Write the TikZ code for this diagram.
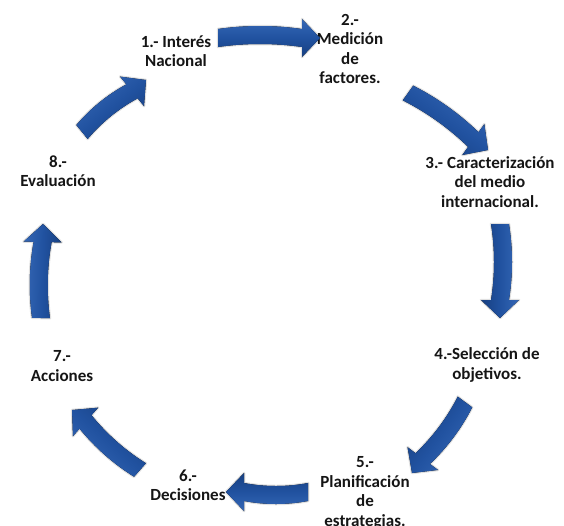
\documentclass[tikz,border=0pt]{standalone}
\usepackage{fontspec}
\setmainfont{Carlito}
\usetikzlibrary{calc}
\definecolor{arrmid}{HTML}{2152A0}
\definecolor{arrdark}{HTML}{173F80}
\definecolor{arrlight}{HTML}{3567B5}
\definecolor{txt}{HTML}{151515}
\newdimen\bax \newdimen\bay \newdimen\bbx \newdimen\bby
\tikzset{
  lab/.style={font=\bfseries\fontsize{17}{19.5}\selectfont, align=center, text=txt, inner sep=0pt},
  arrowbody/.style={top color=arrlight, bottom color=arrdark, middle color=arrmid,
    preaction={draw=black, draw opacity=0.12, line width=2.5pt, line join=round}}
}
\newcommand\blockarrow[2]{%
  \pgfextractx{\bax}{\pgfpointanchor{#1}{center}}%
  \pgfextracty{\bay}{\pgfpointanchor{#1}{center}}%
  \pgfextractx{\bbx}{\pgfpointanchor{#2}{center}}%
  \pgfextracty{\bby}{\pgfpointanchor{#2}{center}}%
  \pgfmathsetmacro\barang{atan2(\the\bby-\the\bay,\the\bbx-\the\bax)}%
  \pgfmathsetmacro\barlen{veclen(\the\bbx-\the\bax,\the\bby-\the\bay)}%
  \pgfmathsetmacro\barshaft{\barlen-18}%
  \begin{scope}[shift={(#1)},rotate=\barang]
    \fill[arrowbody, shading angle=\barang] (0,9) .. controls ({0.33*\barshaft},13) and ({0.67*\barshaft},13) .. (\barshaft,9) -- (\barshaft,19) -- (\barlen,0) -- (\barshaft,-19) -- (\barshaft,-9) .. controls ({0.67*\barshaft},-5) and ({0.33*\barshaft},-5) .. (0,-9) -- cycle;
  \end{scope}}
\begin{document}
\begin{tikzpicture}[x=1pt,y=1pt]
\useasboundingbox[fill=white] (0,-525) rectangle (564,0);
% labels
\node[lab] (l1) at (176,-51) {1.- Interés\\Nacional};
\node[lab] (l2) at (350,-49) {2.-\\Medición\\de\\factores.};
\node[lab] (l3) at (490,-182) {3.- Caracterización\\del medio\\internacional.};
\node[lab] (l4) at (487,-365) {4.-Selección de\\objetivos.};
\node[lab] (l5) at (365,-493) {5.-\\Planificación\\de\\estrategias.};
\node[lab] (l6) at (188,-485) {6.-\\Decisiones};
\node[lab] (l7) at (62,-366) {7.-\\Acciones};
\node[lab] (l8) at (58,-171) {8.-\\Evaluación};
% arrow ends
\coordinate (a1s) at (218,-38);  \coordinate (a1e) at (320,-38);
\coordinate (a2s) at (408,-93);  \coordinate (a2e) at (488,-150);
\coordinate (a3s) at (500,-224); \coordinate (a3e) at (500,-318);
\coordinate (a4s) at (465,-402); \coordinate (a4e) at (412,-473);
\coordinate (a5s) at (308,-492); \coordinate (a5e) at (226,-492);
\coordinate (a6s) at (140,-470); \coordinate (a6e) at (72,-410);
\coordinate (a7s) at (41,-318);  \coordinate (a7e) at (43,-224);
\coordinate (a8s) at (82,-132);  \coordinate (a8e) at (146,-80);
\blockarrow{a1s}{a1e}
\blockarrow{a2s}{a2e}
\blockarrow{a3s}{a3e}
\blockarrow{a4s}{a4e}
\blockarrow{a5s}{a5e}
\blockarrow{a6s}{a6e}
\blockarrow{a7s}{a7e}
\blockarrow{a8s}{a8e}
\end{tikzpicture}
\end{document}
